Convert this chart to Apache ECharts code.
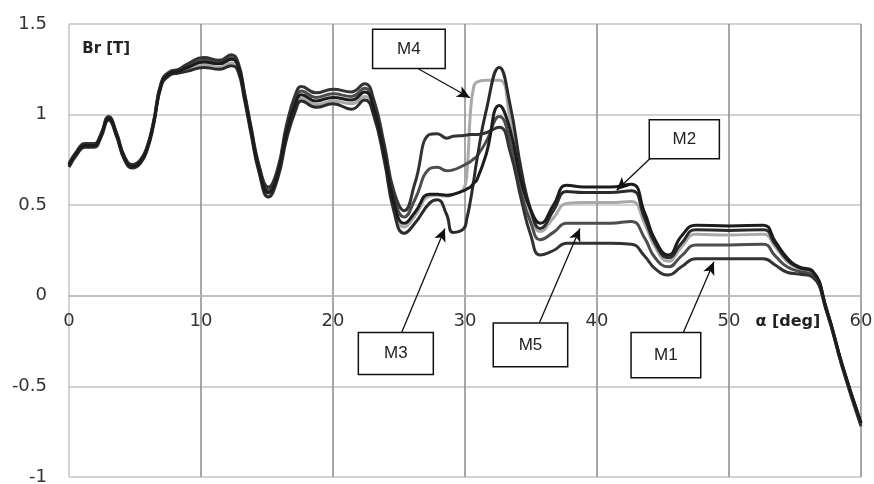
<!DOCTYPE html>
<html>
<head>
<meta charset="utf-8">
<script src="https://cdn.jsdelivr.net/npm/echarts@6/dist/echarts.min.js"></script>
<style>
html,body{margin:0;padding:0;background:#fff;}
#c{width:874px;height:484px;}
</style>
</head>
<body>
<div id="c"></div>
<script>
// angle alpha [deg]
var alpha = [0, 0.6, 1.2, 1.9, 2.4, 3.0, 3.6, 4.2, 4.8, 5.4,
  5.9, 6.4, 7.0, 7.6, 8.3, 9.0, 10.2, 11.4, 12.3, 12.8,
  13.3, 13.8, 14.4, 15.1, 15.8, 16.5, 17.2, 17.6, 18.7, 20.0,
  21.4, 22.4, 23.1, 23.9, 24.6, 25.4, 26.2, 27.3, 27.9, 28.6,
  29.1, 29.9, 30.15, 30.4, 30.65, 30.9, 31.6, 32.6, 33.4, 34.3,
  35.0, 35.7, 36.7, 37.7, 39.0, 41.0, 42.6, 43.6, 44.4, 45.4,
  46.4, 47.5, 50.0, 52.6, 53.5, 54.4, 55.3, 56.3, 57.4, 58.6, 60.0];

var M1 = [0.73, 0.80, 0.84, 0.84, 0.89, 0.99, 0.90, 0.77, 0.725, 0.75,
  0.82, 0.96, 1.18, 1.235, 1.25, 1.28, 1.315, 1.30, 1.33, 1.29,
  1.12, 0.93, 0.72, 0.60, 0.70, 0.95, 1.12, 1.155, 1.12, 1.14,
  1.125, 1.17, 1.08, 0.83, 0.58, 0.47, 0.62, 0.89, 0.895, 0.87,
  0.88, 0.885, 0.887, 0.89, 0.89, 0.89, 0.90, 0.93, 0.80, 0.52,
  0.33, 0.225, 0.25, 0.29, 0.29, 0.29, 0.285, 0.22, 0.15, 0.115,
  0.16, 0.205, 0.205, 0.205, 0.17, 0.13, 0.12, 0.105, -0.09, -0.40, -0.72];

var M2 = [0.72, 0.79, 0.83, 0.83, 0.88, 0.98, 0.89, 0.76, 0.715, 0.74,
  0.81, 0.95, 1.17, 1.225, 1.24, 1.26, 1.29, 1.28, 1.305, 1.27,
  1.10, 0.91, 0.70, 0.57, 0.67, 0.91, 1.07, 1.11, 1.075, 1.095,
  1.08, 1.125, 1.03, 0.78, 0.52, 0.40, 0.46, 0.56, 0.56, 0.555,
  0.56, 0.58, 0.59, 0.60, 0.62, 0.64, 0.78, 1.05, 0.92, 0.62,
  0.47, 0.40, 0.50, 0.61, 0.60, 0.60, 0.615, 0.46, 0.31, 0.225,
  0.33, 0.39, 0.385, 0.39, 0.30, 0.21, 0.16, 0.14, -0.075, -0.385, -0.70];

var M3 = [0.71, 0.78, 0.82, 0.82, 0.87, 0.97, 0.88, 0.75, 0.705, 0.73,
  0.80, 0.94, 1.16, 1.215, 1.23, 1.24, 1.26, 1.25, 1.27, 1.24,
  1.08, 0.89, 0.68, 0.545, 0.645, 0.87, 1.03, 1.075, 1.04, 1.06,
  1.03, 1.08, 0.99, 0.74, 0.47, 0.345, 0.40, 0.51, 0.53, 0.45,
  0.35, 0.37, 0.43, 0.52, 0.63, 0.75, 1.02, 1.26, 1.06, 0.68,
  0.47, 0.372, 0.47, 0.575, 0.57, 0.57, 0.58, 0.43, 0.29, 0.21,
  0.29, 0.365, 0.36, 0.365, 0.285, 0.20, 0.155, 0.135, -0.078, -0.388, -0.70];

var M4 = [0.715, 0.785, 0.825, 0.825, 0.875, 0.975, 0.885, 0.755, 0.71, 0.735,
  0.805, 0.945, 1.165, 1.22, 1.235, 1.25, 1.275, 1.26, 1.285, 1.255,
  1.09, 0.90, 0.69, 0.56, 0.66, 0.89, 1.05, 1.09, 1.055, 1.075,
  1.06, 1.10, 1.01, 0.76, 0.50, 0.38, 0.44, 0.55, 0.555, 0.55,
  0.56, 0.59, 0.68, 1.00, 1.15, 1.18, 1.19, 1.19, 0.98, 0.64,
  0.45, 0.355, 0.43, 0.51, 0.515, 0.515, 0.52, 0.40, 0.27, 0.19,
  0.27, 0.34, 0.335, 0.34, 0.27, 0.19, 0.15, 0.13, -0.08, -0.39, -0.705];

var M5 = [0.725, 0.795, 0.835, 0.835, 0.885, 0.985, 0.895, 0.765, 0.72, 0.745,
  0.815, 0.955, 1.175, 1.23, 1.245, 1.27, 1.30, 1.29, 1.315, 1.28,
  1.11, 0.92, 0.71, 0.585, 0.685, 0.93, 1.09, 1.13, 1.095, 1.115,
  1.10, 1.145, 1.05, 0.80, 0.55, 0.435, 0.53, 0.70, 0.71, 0.69,
  0.695, 0.72, 0.73, 0.74, 0.755, 0.77, 0.85, 0.99, 0.86, 0.56,
  0.40, 0.31, 0.35, 0.40, 0.40, 0.40, 0.41, 0.32, 0.21, 0.16,
  0.22, 0.28, 0.28, 0.285, 0.22, 0.16, 0.135, 0.115, -0.085, -0.395, -0.71];

var yTicks = [-1, -0.5, 0, 0.5, 1, 1.5];
var xTicks = [0, 10, 20, 30, 40, 50, 60];

// annotation labels: box corners [x1,y1,x2,y2] and arrow [fromX,fromY,toX,toY] in data units
var labels = ['M4', 'M2', 'M3', 'M5', 'M1'];
var boxes = [
  [23.0, 1.471, 28.5, 1.254],
  [43.96, 0.971, 49.27, 0.757],
  [21.92, -0.202, 27.6, -0.434],
  [32.14, -0.15, 37.78, -0.392],
  [42.58, -0.202, 47.86, -0.452]
];
var arrows = [
  [26.46, 1.253, 30.38, 1.093],
  [44.02, 0.758, 41.49, 0.582],
  [25.2, -0.202, 28.48, 0.372],
  [35.63, -0.15, 38.71, 0.372],
  [46.54, -0.202, 48.86, 0.188]
];

var Y_MIN = -1, Y_MAX = 1.5;
var GRID = {left:69, right:13, top:24, bottom:7};
var plotH = 484 - GRID.top - GRID.bottom;

function pairs(ys){ return alpha.map(function(x,i){ return [x, ys[i]]; }); }

var chart = echarts.init(document.getElementById('c'), null, {renderer:'canvas'});

var seriesDefs = [
  {name:'M4', data:M4, color:'#a9a9a9'},
  {name:'M5', data:M5, color:'#4d4d4d'},
  {name:'M3', data:M3, color:'#2b2b2b'},
  {name:'M1', data:M1, color:'#333333'},
  {name:'M2', data:M2, color:'#1c1c1c'}
];

var series = seriesDefs.map(function(s){
  return {
    name: s.name, type:'line', data: pairs(s.data), smooth:0.5,
    showSymbol:false, symbol:'none',
    lineStyle:{color:s.color, width:3},
    z: 3
  };
});

series.push({
  type:'line', data:[], silent:true, z:5,
  markLine:{
    silent:true, symbol:['none','arrow'], symbolSize:[9,13],
    label:{show:false},
    lineStyle:{color:'#111', width:1.3, type:'solid'},
    data: arrows.map(function(a){ return [{coord:[a[0],a[1]]},{coord:[a[2],a[3]]}]; })
  }
});

chart.setOption({
  animation:false,
  backgroundColor:'#fff',
  grid:{left:GRID.left, right:GRID.right, top:GRID.top, bottom:GRID.bottom, containLabel:false, outerBoundsMode:'none'},
  xAxis:{
    type:'value', min:0, max:60, interval:10,
    offset: -plotH * (0 - Y_MIN) / (Y_MAX - Y_MIN),
    axisLine:{show:true, onZero:false, lineStyle:{color:'#bdbdbd', width:1.5}},
    axisTick:{show:false},
    axisLabel:{color:'#333', fontSize:18, fontFamily:'DejaVu Sans', margin:17,
      formatter:function(v){ return xTicks.indexOf(v) >= 0 ? String(v) : ''; }},
    splitLine:{show:true, lineStyle:{color:['#c4c4c4','#8a8a8a','#8a8a8a','#8a8a8a','#8a8a8a','#8a8a8a','#8a8a8a'], width:1.5}}
  },
  yAxis:{
    type:'value', min:Y_MIN, max:Y_MAX, interval:0.5,
    axisLine:{show:false}, axisTick:{show:false},
    axisLabel:{color:'#333', fontSize:18, fontFamily:'DejaVu Sans', margin:22,
      formatter:function(v){ return yTicks.indexOf(v) >= 0 ? String(v) : ''; }},
    splitLine:{show:true, lineStyle:{color:'#c4c4c4', width:1.5}}
  },
  series: series
});

var g = [];
boxes.forEach(function(b, i){
  var p1 = chart.convertToPixel({gridIndex:0}, [b[0], b[1]]);
  var p2 = chart.convertToPixel({gridIndex:0}, [b[2], b[3]]);
  g.push({type:'rect', z:10,
    shape:{x:p1[0], y:p1[1], width:p2[0]-p1[0], height:p2[1]-p1[1]},
    style:{fill:'#fff', stroke:'#111', lineWidth:1.5}});
  g.push({type:'text', z:11,
    x:(p1[0]+p2[0])/2, y:(p1[1]+p2[1])/2,
    style:{text:labels[i], fill:'#222', font:'17px "Liberation Sans", Arial, sans-serif',
      align:'center', verticalAlign:'middle'}});
});
var brPos = chart.convertToPixel({gridIndex:0}, [1.0, 1.36]);
g.push({type:'text', z:11, x:brPos[0], y:brPos[1],
  style:{text:'Br [T]', fill:'#222', font:'bold 15px "DejaVu Sans", sans-serif', verticalAlign:'middle'}});
var aPos = chart.convertToPixel({gridIndex:0}, [52.0, -0.145]);
g.push({type:'text', z:11, x:aPos[0], y:aPos[1],
  style:{text:'α [deg]', fill:'#222', font:'bold 16px "DejaVu Sans", sans-serif', verticalAlign:'middle'}});
chart.setOption({graphic:g});
</script>
</body>
</html>
